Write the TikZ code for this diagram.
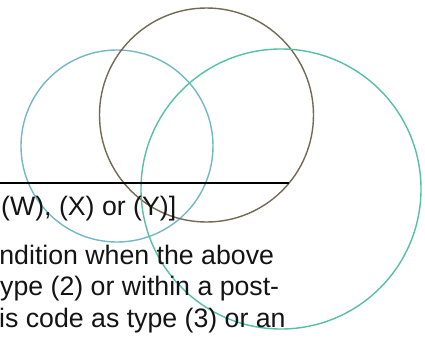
\documentclass[tikz,border=0pt]{standalone}
\usepackage{fontspec}
\setmainfont{Liberation Sans}
\definecolor{cblue}{RGB}{115,185,195}
\definecolor{cbrown}{RGB}{115,105,85}
\definecolor{cgreen}{RGB}{85,192,165}
\definecolor{ctext}{RGB}{20,20,20}
\tikzset{
  ring/.style={line width=1.4pt},
  txt/.style={anchor=base west, inner sep=0pt, text=ctext, font=\fontsize{26.7}{31}\selectfont}
}
\begin{document}
\begin{tikzpicture}[x=1pt,y=-1pt]
\useasboundingbox (0,0) rectangle (425,338);
\clip (0,0) rectangle (425,338);
\fill[white] (0,0) rectangle (425,338);
\draw[ring, cblue] (117,146) circle[radius=96];
\draw[ring, cbrown] (206.5,115) circle[radius=107];
\draw[ring, cgreen] (281,189) circle[radius=140];
\coordinate (l0) at (0,183);
\coordinate (l1) at (289,183);
\draw[line width=1.8pt, black] (l0) -- (l1);
\node[txt] (t1) at (1,215) {(W), (X) or (Y)]};
\node[txt] (t2) at (-0.8,264) {ndition when the above};
\node[txt] (t3) at (0,295.5) {ype (2) or within a post-};
\node[txt] (t4) at (-1,327) {is code as type (3) or an};
\end{tikzpicture}
\end{document}
